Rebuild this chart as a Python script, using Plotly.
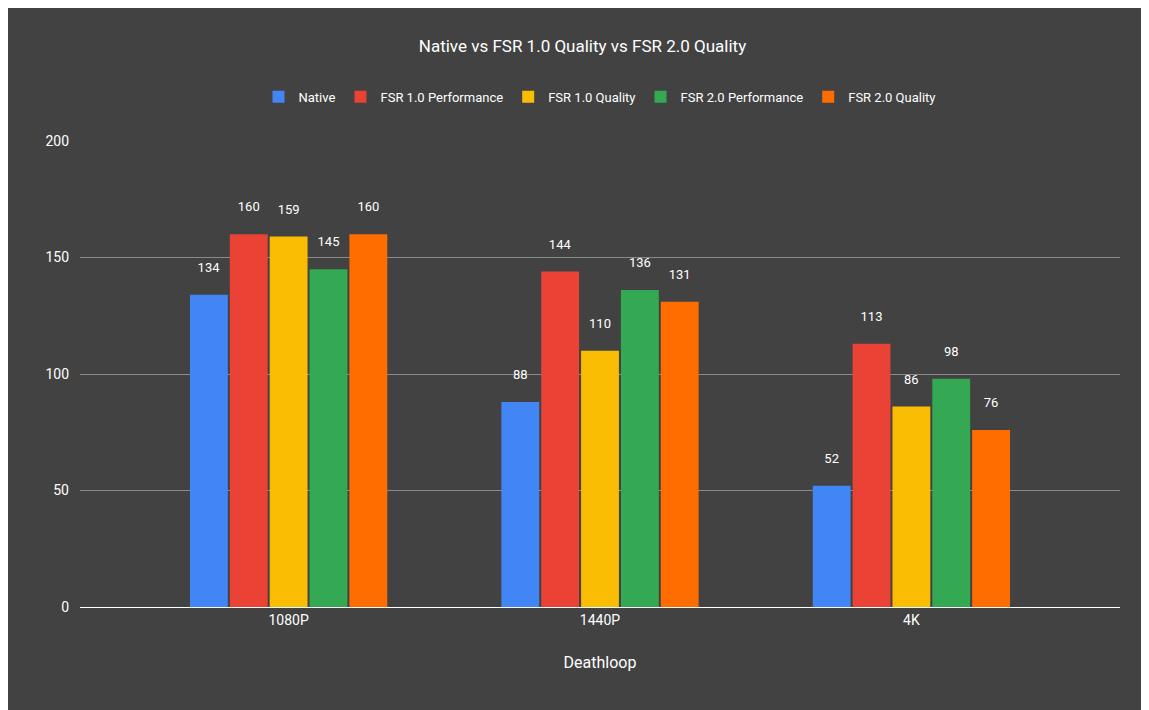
import plotly.graph_objects as go

resolutions = ['1080P', '1440P', '4K']
series = ['Native', 'FSR 1.0 Performance', 'FSR 1.0 Quality', 'FSR 2.0 Performance', 'FSR 2.0 Quality']
values = [
    [134, 88, 52],
    [160, 144, 113],
    [159, 110, 86],
    [145, 136, 98],
    [160, 131, 76],
]
colors = ['#4285F4', '#EA4335', '#FBBC04', '#34A853', '#FF6D01']

fig = go.Figure()
for name, vals, col in zip(series, values, colors):
    fig.add_trace(go.Bar(
        x=resolutions, y=vals, name=name, marker_color=col, marker_line_width=0,
        text=vals, texttemplate='%{y}<br>\u00a0', textposition='outside', cliponaxis=False,
        textfont=dict(color='white', size=13),
    ))

fig.update_layout(
    width=1149, height=710,
    paper_bgcolor='#424242', plot_bgcolor='#424242',
    font=dict(family='Roboto', color='white', size=13),
    title=dict(text='Native vs FSR 1.0 Quality vs FSR 2.0 Quality', x=0.5, y=0.955,
               xanchor='center', font=dict(size=17)),
    legend=dict(orientation='h', x=0.5, xanchor='center', y=1.095, yanchor='middle',
                font=dict(size=13), itemwidth=30),
    margin=dict(l=72, r=37, t=133, b=111),
    barmode='group', bargap=0.36, bargroupgap=0.05,
    xaxis=dict(title=dict(text='Deathloop', font=dict(size=16), standoff=30),
               range=[-0.67, 2.67],
               showline=True, linecolor='white', tickfont=dict(size=14)),
    yaxis=dict(range=[0, 200], tickvals=[0, 50, 100, 150, 200], gridcolor='#8a8a8a',
               zeroline=False, ticklabelstandoff=10, tickfont=dict(size=14)),
)

fig.write_html('out.html')
